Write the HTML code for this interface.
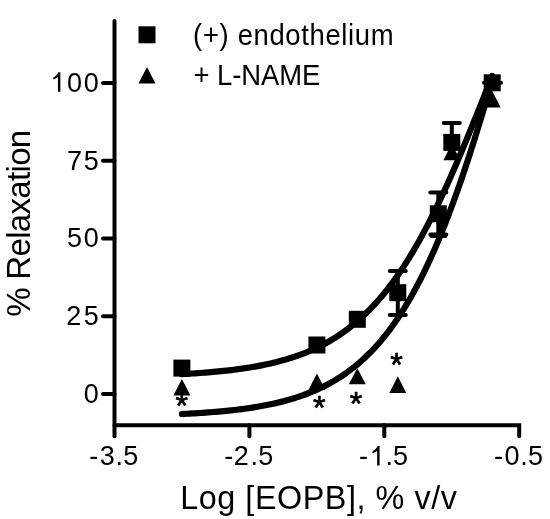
<!DOCTYPE html><html><head><meta charset="utf-8"><style>html,body{margin:0;padding:0;background:#fff;width:550px;height:519px;overflow:hidden}svg{display:block;will-change:transform}text{font-family:"Liberation Sans",sans-serif;fill:#000}</style></head><body>
<svg width="550" height="519" viewBox="0 0 550 519">
<g stroke="#000" stroke-width="4" fill="none" stroke-linecap="round" stroke-linejoin="miter">
<path d="M114.5,21 L114.5,436.3"/>
<path d="M114.5,425.2 L519.2,425.2 L519.2,436.3" stroke-linecap="round"/>
<path d="M103,83.00 L114.5,83.00"/>
<path d="M103,160.72 L114.5,160.72"/>
<path d="M103,238.45 L114.5,238.45"/>
<path d="M103,316.17 L114.5,316.17"/>
<path d="M103,393.90 L114.5,393.90"/>
<path d="M249.40,425.2 L249.40,436.3"/>
<path d="M384.30,425.2 L384.30,436.3"/>
</g>
<g stroke="#000" stroke-width="6.2" fill="none" stroke-linecap="round" stroke-linejoin="round">
<path d="M181.95,374.09 L184.56,373.95 L187.16,373.81 L189.77,373.65 L192.38,373.50 L194.99,373.33 L197.59,373.16 L200.20,372.97 L202.81,372.78 L205.42,372.59 L208.02,372.38 L210.63,372.16 L213.24,371.94 L215.85,371.70 L218.45,371.45 L221.06,371.20 L223.67,370.93 L226.27,370.65 L228.88,370.35 L231.49,370.05 L234.10,369.73 L236.70,369.39 L239.31,369.04 L241.92,368.68 L244.53,368.30 L247.13,367.90 L249.74,367.48 L252.35,367.05 L254.95,366.60 L257.56,366.12 L260.17,365.63 L262.78,365.12 L265.38,364.58 L267.99,364.02 L270.60,363.44 L273.21,362.83 L275.81,362.19 L278.42,361.52 L281.03,360.83 L283.64,360.11 L286.24,359.36 L288.85,358.57 L291.46,357.75 L294.06,356.90 L296.67,356.01 L299.28,355.08 L301.89,354.12 L304.49,353.11 L307.10,352.06 L309.71,350.97 L312.32,349.84 L314.92,348.65 L317.53,347.42 L320.14,346.14 L322.74,344.80 L325.35,343.41 L327.96,341.97 L330.57,340.47 L333.17,338.91 L335.78,337.28 L338.39,335.59 L341.00,333.84 L343.60,332.02 L346.21,330.13 L348.82,328.17 L351.43,326.13 L354.03,324.02 L356.64,321.83 L359.25,319.56 L361.85,317.20 L364.46,314.76 L367.07,312.24 L369.68,309.62 L372.28,306.92 L374.89,304.12 L377.50,301.22 L380.11,298.23 L382.71,295.14 L385.32,291.95 L387.93,288.65 L390.53,285.25 L393.14,281.75 L395.75,278.14 L398.36,274.42 L400.96,270.59 L403.57,266.65 L406.18,262.60 L408.79,258.44 L411.39,254.17 L414.00,249.79 L416.61,245.29 L419.22,240.68 L421.82,235.97 L424.43,231.14 L427.04,226.20 L429.64,221.15 L432.25,216.00 L434.86,210.74 L437.47,205.38 L440.07,199.92 L442.68,194.37 L445.29,188.71 L447.90,182.97 L450.50,177.14 L453.11,171.23 L455.72,165.24 L458.32,159.17 L460.93,153.04 L463.54,146.84 L466.15,140.57 L468.75,134.26 L471.36,127.89 L473.97,121.49 L476.58,115.04 L479.18,108.57 L481.79,102.07 L484.40,95.55 L487.01,89.02 L489.61,82.48 L492.22,75.94"/>
<path d="M181.95,413.99 L184.56,413.87 L187.16,413.73 L189.77,413.59 L192.38,413.45 L194.99,413.30 L197.59,413.14 L200.20,412.98 L202.81,412.80 L205.42,412.62 L208.02,412.44 L210.63,412.24 L213.24,412.03 L215.85,411.82 L218.45,411.60 L221.06,411.36 L223.67,411.12 L226.27,410.86 L228.88,410.59 L231.49,410.31 L234.10,410.02 L236.70,409.72 L239.31,409.40 L241.92,409.06 L244.53,408.72 L247.13,408.35 L249.74,407.97 L252.35,407.58 L254.95,407.16 L257.56,406.73 L260.17,406.28 L262.78,405.81 L265.38,405.32 L267.99,404.80 L270.60,404.26 L273.21,403.70 L275.81,403.12 L278.42,402.51 L281.03,401.87 L283.64,401.20 L286.24,400.51 L288.85,399.78 L291.46,399.02 L294.06,398.23 L296.67,397.41 L299.28,396.55 L301.89,395.65 L304.49,394.71 L307.10,393.74 L309.71,392.72 L312.32,391.66 L314.92,390.55 L317.53,389.39 L320.14,388.19 L322.74,386.93 L325.35,385.62 L327.96,384.26 L330.57,382.84 L333.17,381.36 L335.78,379.82 L338.39,378.21 L341.00,376.54 L343.60,374.80 L346.21,372.99 L348.82,371.10 L351.43,369.14 L354.03,367.10 L356.64,364.98 L359.25,362.77 L361.85,360.47 L364.46,358.09 L367.07,355.61 L369.68,353.04 L372.28,350.36 L374.89,347.59 L377.50,344.71 L380.11,341.72 L382.71,338.61 L385.32,335.40 L387.93,332.06 L390.53,328.61 L393.14,325.03 L395.75,321.33 L398.36,317.49 L400.96,313.52 L403.57,309.42 L406.18,305.18 L408.79,300.79 L411.39,296.26 L414.00,291.59 L416.61,286.76 L419.22,281.79 L421.82,276.66 L424.43,271.38 L427.04,265.94 L429.64,260.34 L432.25,254.58 L434.86,248.66 L437.47,242.58 L440.07,236.34 L442.68,229.94 L445.29,223.38 L447.90,216.65 L450.50,209.77 L453.11,202.72 L455.72,195.52 L458.32,188.17 L460.93,180.66 L463.54,173.00 L466.15,165.20 L468.75,157.26 L471.36,149.17 L473.97,140.95 L476.58,132.61 L479.18,124.14 L481.79,115.55 L484.40,106.85 L487.01,98.05 L489.61,89.15 L492.22,80.15"/>
</g>
<g stroke="#000" stroke-width="4" fill="none" stroke-linecap="round">
<path d="M397.8,271.1 L397.8,315.0 M389.8,271.1 L405.8,271.1 M389.8,315.0 L405.8,315.0"/>
<path d="M438.3,192.5 L438.3,234.5 M430.3,192.5 L446.3,192.5 M430.3,234.5 L446.3,234.5"/>
<path d="M451.8,122.9 L451.8,137.9 M443.8,122.9 L459.8,122.9"/>
<path d="M484,82.8 L501,82.8"/>
<path d="M431.3,235.9 L445.3,235.9"/>
</g>
<g fill="#000">
<rect x="173.40" y="359.60" width="17" height="17"/>
<rect x="308.40" y="336.50" width="17" height="17"/>
<rect x="348.80" y="310.80" width="17" height="17"/>
<rect x="389.30" y="284.20" width="17" height="17"/>
<rect x="429.80" y="205.30" width="17" height="17"/>
<rect x="443.30" y="133.90" width="17" height="17"/>
<rect x="483.70" y="74.30" width="17" height="17"/>
<path d="M439.5,219 L443.8,219 L441.6,231 L439.5,231 Z"/>
<path d="M181.90,378.9 L190.40,395.4 L173.40,395.4 Z"/>
<path d="M316.90,373.6 L325.40,390 L308.40,390 Z"/>
<path d="M357.30,368.2 L365.80,384.3 L348.80,384.3 Z"/>
<path d="M397.80,376.2 L406.30,393 L389.30,393 Z"/>
<path d="M451.80,143.8 L460.30,160.3 L443.30,160.3 Z"/>
<path d="M492.20,91 L500.70,107.4 L483.70,107.4 Z"/>
</g>
<text x="181.8" y="417.15" font-size="32.3" text-anchor="middle" stroke="#000" stroke-width="0.7">*</text>
<text x="319.35" y="418.85" font-size="32.3" text-anchor="middle" stroke="#000" stroke-width="0.7">*</text>
<text x="356" y="415.35" font-size="32.3" text-anchor="middle" stroke="#000" stroke-width="0.7">*</text>
<text x="396.5" y="376.15" font-size="32.3" text-anchor="middle" stroke="#000" stroke-width="0.7">*</text>
<path transform="translate(50.34,91.80) scale(0.01320,-0.01382)" d="M760,0 L575,0 L575,1071 C480,990 350,930 223,895 L223,1040 C400,1110 540,1250 620,1409 L760,1409 Z"/>
<text transform="scale(0.955,1)" x="70.20 87.69" y="91.80" font-size="28.3">00</text>
<text transform="scale(0.955,1)" x="70.20 87.69" y="169.52" font-size="28.3">75</text>
<text transform="scale(0.955,1)" x="70.20 87.69" y="247.25" font-size="28.3">50</text>
<text transform="scale(0.955,1)" x="69.36 87.69" y="324.97" font-size="28.3">25</text>
<text transform="scale(0.955,1)" x="87.69" y="402.70" font-size="28.3">0</text>
<text transform="scale(0.955,1)" x="93.51 104.45 121.08 129.08" y="465.50" font-size="28.3">-3.5</text>
<text transform="scale(0.955,1)" x="234.76 244.87 262.34 270.34" y="465.50" font-size="28.3">-2.5</text>
<path transform="translate(369.55,465.50) scale(0.01320,-0.01382)" d="M760,0 L575,0 L575,1071 C480,990 350,930 223,895 L223,1040 C400,1110 540,1250 620,1409 L760,1409 Z"/>
<text transform="scale(0.955,1)" x="376.02 403.59 411.59" y="465.50" font-size="28.3">-.5</text>
<text transform="scale(0.955,1)" x="517.28 528.22 544.85 552.85" y="465.50" font-size="28.3">-0.5</text>
<text transform="translate(180.20,508.60) scale(0.96,1)" font-size="33.7" textLength="288.19" lengthAdjust="spacing">Log [EOPB], % v/v</text>
<text transform="translate(30.00,316.80) rotate(-90) scale(1.0,1)" font-size="33.0" textLength="187.03" lengthAdjust="spacing">% Relaxation</text>
<rect x="138.5" y="26.3" width="17" height="17" fill="#000"/>
<path d="M147,67 L155.5,83.6 L138.5,83.6 Z" fill="#000"/>
<text transform="translate(193.10,44.60) scale(0.96,1)" font-size="28.6" textLength="208.90" lengthAdjust="spacing">(+) endothelium</text>
<text transform="translate(193.50,85.20) scale(0.96,1)" font-size="28.6" textLength="132.03" lengthAdjust="spacing">+ L-NAME</text>
</svg></body></html>
